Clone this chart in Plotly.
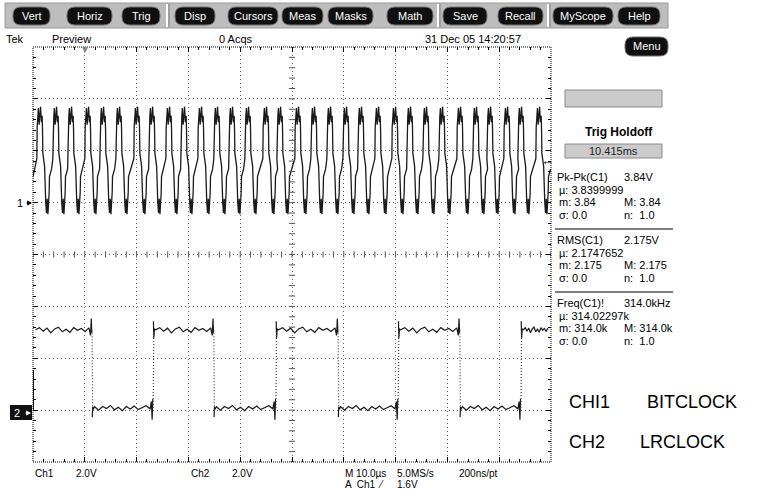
import plotly.graph_objects as go

W, H = 771, 492
GX0, GX1, GY0, GY1 = 33, 551, 47, 462

# ---------------- data ----------------
# CH1 (bit clock): time of each top of the waveform, microseconds
ch1_top_times_us = [-48.46, -45.37, -42.47, -39.19, -36.29, -33.20, -29.73, -26.83,
                    -23.55, -20.66, -17.37, -14.29, -11.39, -8.30, -4.83, -2.12,
                    1.35, 4.44, 7.53, 10.62, 13.51, 16.80, 20.08, 22.97,
                    26.06, 29.15, 32.63, 35.71, 38.42, 41.70, 44.40, 47.88]
# sampled shape of one bit-clock cycle around a top (offset us, volts)
ch1_cycle_dt_us = [-0.80, -0.74, -0.62, -0.50, -0.36, -0.22, -0.08, 0.08, 0.22,
                   0.30, 0.36, 0.70, 0.80, 0.92, 1.06, 1.20, 1.34, 1.48, 1.58, 1.64, 2.05]
ch1_cycle_volts = [1.7, 2.9, 3.3, 3.65, 3.0, 3.3, 3.7, 3.1, 3.35,
                   2.8, 1.9, 1.4, 0.4, 0.0, -0.4, 0.15, -0.45, 0.0, 0.4, 1.0, 1.3]
ch1_start_volts = 1.0

# CH2 (LR clock): edge times (us), first segment is high
ch2_edge_times_us = [-38.6, -26.8, -15.1, -3.1, 8.9, 20.5, 32.4, 44.2]
ch2_high_volts = 3.08
ch2_low_volts = 0.08
ch2_high_ripple = [0.02, 0.10, -0.04, 0.08, -0.10, 0.05, 0.12, -0.06, 0.04,
                   -0.08, 0.10, 0.00, 0.07, -0.05, 0.09]
ch2_low_ripple = [0.05, -0.08, 0.06, -0.02, 0.10, -0.07, 0.03, -0.10, 0.06,
                  -0.04, 0.08, -0.06, 0.02, 0.09, -0.03]

ch1_volts_per_div = 2.0
ch2_volts_per_div = 2.0
ch1_offset_div = 1.0
ch2_offset_div = -3.0

menu_buttons = ["Vert", "Horiz", "Trig", "Disp", "Cursors", "Meas", "Masks",
                "Math", "Save", "Recall", "MyScope", "Help"]

header_texts = ["Tek", "Preview", "0 Acqs", "31 Dec 05 14:20:57"]

meas_titles = ["Pk-Pk(C1)", "RMS(C1)", "Freq(C1)!"]
meas_values = ["3.84V", "2.175V", "314.0kHz"]
meas_mean = ["µ: 3.8399999", "µ: 2.1747652", "µ: 314.02297k"]
meas_min = ["m: 3.84", "m: 2.175", "m: 314.0k"]
meas_max = ["M: 3.84", "M: 2.175", "M: 314.0k"]
meas_sigma = ["σ: 0.0", "σ: 0.0", "σ: 0.0"]
meas_n = ["n:  1.0", "n:  1.0", "n:  1.0"]

bottom_row1 = ["Ch1", "2.0V", "Ch2", "2.0V", "M 10.0µs", "5.0MS/s", "200ns/pt"]
bottom_row2 = ["A  Ch1  ⁄", "1.6V"]
legend_lines = [("CHI1", "BITCLOCK"), ("CH2", "LRCLOCK")]

# ---------------- layout helpers ----------------
button_x = [(13, 50), (67, 112), (122, 160), (175, 215), (228, 278), (282, 323),
            (328, 373), (387, 433), (443, 487), (498, 543), (553, 613), (618, 660)]
FONT = "Liberation Sans, Arial, sans-serif"


def px(x):
    return x / W


def py(y):
    return 1 - y / H


def pill_path(x0, y0, x1, y1, r):
    pts = [("M", x0 + r, y0), ("L", x1 - r, y0), ("Q", x1, y0, x1, y0 + r),
           ("L", x1, y1 - r), ("Q", x1, y1, x1 - r, y1), ("L", x0 + r, y1),
           ("Q", x0, y1, x0, y1 - r), ("L", x0, y0 + r), ("Q", x0, y0, x0 + r, y0)]
    s = ""
    for p in pts:
        if p[0] == "Q":
            s += f"Q{px(p[1]):.5f},{py(p[2]):.5f} {px(p[3]):.5f},{py(p[4]):.5f} "
        else:
            s += f"{p[0]}{px(p[1]):.5f},{py(p[2]):.5f} "
    return s + "Z"


shapes = []
annotations = []


def text(x, y, s, size=11, color="#000", anchor="left", bold=False):
    annotations.append(dict(x=px(x), y=py(y), xref="paper", yref="paper", text=(f"<b>{s}</b>" if bold else s),
                            showarrow=False, xanchor=anchor, yanchor="middle",
                            font=dict(family=FONT, size=size, color=color)))


# ---------------- traces ----------------
fig = go.Figure()

# CH1 waveform
x1 = [-50.0]
y1 = [ch1_offset_div + ch1_start_volts / ch1_volts_per_div]
for tc in ch1_top_times_us:
    for dt, v in zip(ch1_cycle_dt_us, ch1_cycle_volts):
        t = tc + dt
        if -50 <= t <= 50:
            x1.append(t)
            y1.append(ch1_offset_div + v / ch1_volts_per_div)
fig.add_trace(go.Scatter(x=x1, y=y1, mode="lines", line=dict(color="#1a1a1a", width=1.3),
                         hoverinfo="skip", showlegend=False))

# CH2 waveform
bounds = [-50.0] + ch2_edge_times_us + [50.0]
x2, y2, ex, ey = [], [], [], []
high = True
for i in range(len(bounds) - 1):
    a, b = bounds[i], bounds[i + 1]
    lvl = ch2_high_volts if high else ch2_low_volts
    rip = ch2_high_ripple if high else ch2_low_ripple
    seg_x, seg_v = [], []
    if i > 0:
        if high:
            seg_x += [a + 0.05, a + 0.12, a + 0.25]
            seg_v += [lvl + 0.35, lvl - 0.30, lvl + 0.05]
        else:
            seg_x += [a + 0.05, a + 0.12, a + 0.25]
            seg_v += [lvl - 0.35, lvl + 0.05, lvl - 0.05]
    n = len(rip)
    s0, s1 = a + 0.5, b - 0.6
    for k in range(n):
        seg_x.append(s0 + (s1 - s0) * k / (n - 1))
        seg_v.append(lvl + rip[k])
    if i < len(bounds) - 2:
        if high:
            seg_x += [b - 0.3, b - 0.15, b - 0.05]
            seg_v += [lvl - 0.2, lvl + 0.45, lvl - 0.1]
        else:
            seg_x += [b - 0.35, b - 0.2, b - 0.08]
            seg_v += [lvl + 0.25, lvl - 0.45, lvl + 0.35]
        nxt = ch2_low_volts if high else ch2_high_volts
        ex += [b, b + 0.12, None]
        ey += [ch2_offset_div + lvl / 2, ch2_offset_div + nxt / 2, None]
    x2 += seg_x + [None]
    y2 += [ch2_offset_div + v / ch2_volts_per_div for v in seg_v] + [None]
    high = not high
fig.add_trace(go.Scatter(x=x2, y=y2, mode="lines", line=dict(color="#1a1a1a", width=1.2),
                         hoverinfo="skip", showlegend=False, connectgaps=False))
fig.add_trace(go.Scatter(x=ex, y=ey, mode="lines", line=dict(color="#444", width=1.2, dash="1px,2px"),
                         hoverinfo="skip", showlegend=False, connectgaps=False))
# left-edge start of ch2
fig.add_trace(go.Scatter(x=[-49.95, -49.95], y=[ch2_offset_div, ch2_offset_div + 1.54 / 2],
                         mode="lines", line=dict(color="#1a1a1a", width=1.5),
                         hoverinfo="skip", showlegend=False))

# centre cross ticks
cx, cy = [], []
for k in range(41):
    yy = -4 + 0.2 * k
    cx += [-0.6, 0.6, None]
    cy += [yy, yy, None]
for k in range(51):
    xx = -50 + 2 * k
    cx += [xx, xx, None]
    cy += [-0.06, 0.06, None]
fig.add_trace(go.Scatter(x=cx, y=cy, mode="lines", line=dict(color="#555", width=1),
                         hoverinfo="skip", showlegend=False))

# graticule border
shapes.append(dict(type="rect", xref="paper", yref="paper", x0=px(GX0), x1=px(GX1), y0=py(GY1), y1=py(GY0),
                   line=dict(color="#000", width=1, dash="1px,1px"), layer="above"))

# ---------------- menu bar ----------------
shapes.append(dict(type="rect", xref="paper", yref="paper", x0=px(5), x1=px(668), y0=py(28), y1=py(3),
                   fillcolor="#bdbdbd", line=dict(color="#9a9a9a", width=1), layer="below"))
for sx in [167, 438, 548]:
    shapes.append(dict(type="line", xref="paper", yref="paper", x0=px(sx), x1=px(sx), y0=py(27), y1=py(4),
                       line=dict(color="#ffffff", width=2)))
    shapes.append(dict(type="line", xref="paper", yref="paper", x0=px(sx + 2), x1=px(sx + 2), y0=py(27), y1=py(4),
                       line=dict(color="#808080", width=1)))
for name, (bx0, bx1) in zip(menu_buttons, button_x):
    shapes.append(dict(type="path", xref="paper", yref="paper", path=pill_path(bx0, 7, bx1, 25, 8),
                       fillcolor="#101010", line=dict(color="#707070", width=1)))
    text((bx0 + bx1) / 2, 16, name, size=11, color="#ffffff", anchor="center")

# Menu button
shapes.append(dict(type="path", xref="paper", yref="paper", path=pill_path(625, 37, 668, 56, 8),
                   fillcolor="#101010", line=dict(color="#707070", width=1)))
text(646.5, 46.5, "Menu", size=11, color="#ffffff", anchor="center")

# header
for s, hx in zip(header_texts, [4, 50, 217, 423]):
    text(hx, 39, s, size=11)

# ---------------- right panel ----------------
shapes.append(dict(type="rect", xref="paper", yref="paper", x0=px(565), x1=px(662), y0=py(107), y1=py(90),
                   fillcolor="#cbcbcb", line=dict(color="#8a8a8a", width=1)))
text(619, 132, "Trig Holdoff", size=12, anchor="center", bold=True)
shapes.append(dict(type="rect", xref="paper", yref="paper", x0=px(565), x1=px(662), y0=py(158), y1=py(144),
                   fillcolor="#cbcbcb", line=dict(color="#8a8a8a", width=1)))
text(613, 151, "10.415ms", size=11, anchor="center", color="#222")

row_y0 = [177, 240, 303]
for i in range(3):
    y0 = row_y0[i]
    text(555, y0, meas_titles[i], size=11)
    text(622, y0, meas_values[i], size=11)
    text(557, y0 + 12.5, meas_mean[i], size=11)
    text(557, y0 + 25, meas_min[i], size=11)
    text(622, y0 + 25, meas_max[i], size=11)
    text(557, y0 + 38, meas_sigma[i], size=11)
    text(622, y0 + 38, meas_n[i], size=11)
    if i < 2:
        shapes.append(dict(type="line", xref="paper", yref="paper", x0=px(555), x1=px(673),
                           y0=py(y0 + 52), y1=py(y0 + 52), line=dict(color="#555", width=1.5)))

# channel markers
text(20, 203, "1", size=11, anchor="center")
annotations.append(dict(x=px(32), y=py(203), xref="paper", yref="paper", text="", showarrow=True,
                        ax=-7, ay=0, arrowhead=2, arrowsize=0.8, arrowwidth=1.2, arrowcolor="#000"))
shapes.append(dict(type="rect", xref="paper", yref="paper", x0=px(10), x1=px(32), y0=py(420), y1=py(405),
                   fillcolor="#111", line=dict(width=0)))
text(17, 413, "2", size=11, color="#fff", anchor="center")
annotations.append(dict(x=px(31), y=py(413), xref="paper", yref="paper", text="", showarrow=True,
                        ax=-7, ay=0, arrowhead=2, arrowsize=0.8, arrowwidth=1.2, arrowcolor="#fff"))
# trigger level arrow (right edge, pointing left) and trigger position marker (top)
text(547, 161, "←", size=13, anchor="center")
text(85, 50, "▼", size=10, color="#888", anchor="center")

# bottom labels
for s, bx in zip(bottom_row1, [33, 74, 189, 230, 343, 395, 457]):
    text(bx, 473, s, size=10)
for s, bx in zip(bottom_row2, [343, 395]):
    text(bx, 484, s, size=10)

# channel legend text
for (a, b), ly, bx in zip(legend_lines, [402, 442], [645, 638]):
    text(567, ly, a, size=18)
    text(bx, ly, b, size=18)

fig.update_layout(
    width=W, height=H, margin=dict(l=0, r=0, t=0, b=0),
    paper_bgcolor="#ffffff", plot_bgcolor="rgba(0,0,0,0)",
    shapes=shapes, annotations=annotations, showlegend=False,
    xaxis=dict(domain=[px(GX0), px(GX1)], range=[-50, 50], tick0=0, dtick=10,
               showgrid=True, gridcolor="#666", gridwidth=1, griddash="1px,3px",
               zeroline=False, showticklabels=False, showline=False,
               ticks="inside", ticklen=5, tickcolor="#000", mirror="ticks",
               minor=dict(dtick=2, ticks="inside", ticklen=3, tickcolor="#000", showgrid=False),
               fixedrange=True),
    yaxis=dict(domain=[py(GY1), py(GY0)], range=[-4, 4], tick0=0, dtick=1,
               showgrid=True, gridcolor="#666", gridwidth=1, griddash="1px,3px",
               zeroline=False, showticklabels=False, showline=False,
               ticks="inside", ticklen=5, tickcolor="#000", mirror="ticks",
               minor=dict(dtick=0.2, ticks="inside", ticklen=3, tickcolor="#000", showgrid=False),
               fixedrange=True),
)

fig.write_html("out.html", config={"displayModeBar": False},
               post_script="document.body.style.margin='0';document.body.style.padding='0';")
